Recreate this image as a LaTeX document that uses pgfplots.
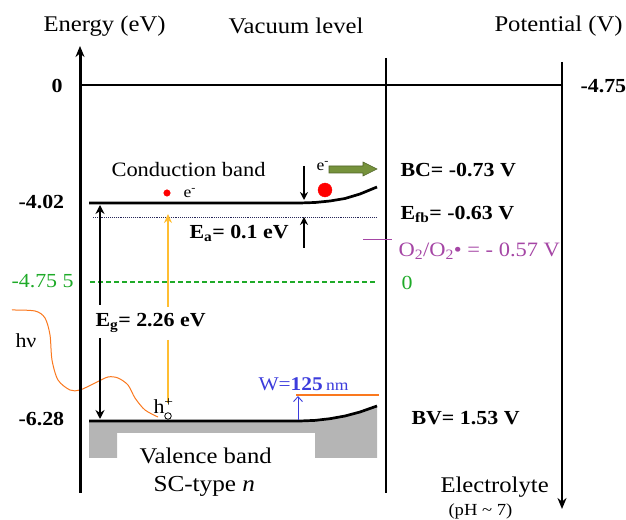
\documentclass[border=0pt]{standalone}
\usepackage{pgfplots}
\pgfplotsset{compat=1.18}
\usepackage{fontspec}
\setmainfont[FakeStretch=1.1]{Liberation Serif}
\usetikzlibrary{arrows.meta}
\definecolor{myorange}{RGB}{250,120,30}
\definecolor{myyellow}{RGB}{255,190,50}
\definecolor{mygreen}{RGB}{30,170,40}
\definecolor{mypurple}{RGB}{165,70,165}
\definecolor{myblue}{RGB}{60,60,220}
\definecolor{olivegreen}{RGB}{118,146,60}
\definecolor{olivedark}{RGB}{80,100,40}
\definecolor{dotblue}{RGB}{40,40,90}
\newcommand{\fs}[1]{\fontsize{#1}{#1}\selectfont}
\begin{document}
\begin{tikzpicture}
\begin{axis}[
  scale only axis, width=626bp, height=520bp,
  xmin=0, xmax=626, ymin=0, ymax=520, y dir=reverse,
  hide axis, clip=false,
  every node/.style={inner sep=0pt, outer sep=0pt},
]
\coordinate (bl) at (rel axis cs:0,0);
\coordinate (tr) at (rel axis cs:1,1);
% gray valence block
\addplot[fill=gray!58, draw=none] coordinates {(89,421) (300,421) (315,420.4) (330,418.7) (345,416) (360,412) (377,406) (377,458) (315,458) (315,433) (117,433) (117,458) (89,458)} -- cycle;
% h nu curve
\addplot[myorange, line width=1bp, smooth] coordinates {(12,310) (35,311) (45,318) (50,335) (52,360) (58,380) (70,390) (80,390) (95,383) (108,377) (118,378) (128,385) (135,398) (145,410) (158,417)};
% axes lines
\addplot[line width=3bp, -{Stealth[length=11bp,width=9bp]}] coordinates {(80,493) (80,46)};
\addplot[line width=1.4bp] coordinates {(80,85) (562,85)};
\addplot[line width=2.6bp] coordinates {(386,58) (386,493)};
\addplot[line width=2.6bp, -{Stealth[length=11bp,width=9bp]}] coordinates {(562,62) (562,509)};
% bands
\addplot[line width=2.7bp] coordinates {(89,203) (300,203) (315,202.5) (330,201) (345,198.5) (360,194) (377,187)};
\addplot[line width=2.7bp] coordinates {(89,421) (300,421) (315,420.4) (330,418.7) (345,416) (360,412) (377,406)};
\addplot[dotblue, densely dotted, line width=0.9bp] coordinates {(93,217) (377,217)};
\addplot[mygreen, dashed, line width=1.6bp, dash pattern=on 5bp off 3bp] coordinates {(90,282) (377,282)};
\addplot[mypurple, line width=1bp] coordinates {(363,240) (392,240)};
% Eg arrows
\addplot[line width=2.5bp, -{Stealth[length=9bp,width=9bp]}] coordinates {(100,305) (100,205)};
\addplot[line width=2.5bp, -{Stealth[length=9bp,width=9bp]}] coordinates {(100,338) (100,419)};
% yellow arrow
\addplot[myyellow, line width=1.6bp, -{Stealth[length=9bp,width=8bp]}] coordinates {(168,307) (168,214)};
\addplot[myyellow, line width=1.6bp] coordinates {(168,340) (168,403)};
% Ea arrows
\addplot[line width=2.2bp, -{Stealth[length=8bp,width=8bp]}] coordinates {(304,166) (304,200)};
\addplot[line width=2.2bp, -{Stealth[length=8bp,width=8bp]}] coordinates {(304,248) (304,217)};
% green fat arrow
\addplot[fill=olivegreen, draw=olivedark, line width=0.6bp] coordinates {(329,166) (363,166) (363,162) (377,169) (363,176) (363,173) (329,173)} -- cycle;
% W arrow and line
\addplot[myblue, line width=0.9bp, -{Straight Barb[length=5bp,width=9bp]}] coordinates {(298,420) (298,396)};
\addplot[myorange, line width=1.2bp] coordinates {(296,395) (379,395)};
% dots
\addplot[only marks, mark=*, mark size=7, red] coordinates {(325,190)};
\addplot[only marks, mark=*, mark size=3.3, red] coordinates {(167,193)};
\addplot[only marks, mark=*, mark size=3.3, mark options={fill=white, draw=black, line width=0.8bp}] coordinates {(168,416)};
% texts
\node[anchor=west, font=\fs{22.5}] at (axis cs:40,26) {Energy (eV)};
\node[anchor=west, font=\fs{22.5}] at (axis cs:225,26) {Vacuum level};
\node[anchor=west, font=\fs{22.5}] at (axis cs:491,26) {Potential (V)};
\node[anchor=west, font=\fs{20}\bfseries] at (axis cs:48,86) {0};
\node[anchor=west, font=\fs{20}\bfseries] at (axis cs:577,86) {-4.75};
\node[anchor=west, font=\fs{20}\bfseries] at (axis cs:15,202) {-4.02};
\node[anchor=west, font=\fs{20}\bfseries] at (axis cs:15,419) {-6.28};
\node[anchor=west, font=\fs{20}, text=mygreen] at (axis cs:8,281) {-4.75 5};
\node[anchor=west, font=\fs{20}, text=mygreen] at (axis cs:398,283) {0};
\node[anchor=west, font=\fs{20.5}] at (axis cs:108,170) {Conduction band};
\node[anchor=west, font=\fs{16}] at (axis cs:180,193) {e\textsuperscript{-}};
\node[anchor=west, font=\fs{16}] at (axis cs:313,166) {e\textsuperscript{-}};
\node[anchor=west, font=\fs{20}\bfseries] at (axis cs:186,233) {E\textsubscript{a}= 0.1 eV};
\node[anchor=west, font=\fs{20}\bfseries] at (axis cs:92,323) {E\textsubscript{g}= 2.26 eV};
\node[anchor=west, font=\fs{20}\bfseries] at (axis cs:397,170) {BC= -0.73 V};
\node[anchor=west, font=\fs{20}\bfseries] at (axis cs:397,214) {E\textsubscript{fb}= -0.63 V};
\node[anchor=west, font=\fs{20.5}, text=mypurple] at (axis cs:395,251) {O\textsubscript{2}/O\textsubscript{2}• = - 0.57 V};
\node[anchor=west, font=\fs{20}\bfseries] at (axis cs:408,418) {BV= 1.53 V};
\node[anchor=west, font=\fs{20}] at (axis cs:12,341) {hν};
\node[anchor=west, font=\fs{20}] at (axis cs:150,406) {h\textsuperscript{+}};
\node[anchor=west, font=\fs{19.5}, text=myblue] at (axis cs:255,384) {W=\textbf{125}\,{\fs{16}nm}};
\node[anchor=west, font=\fs{22.5}] at (axis cs:136,456) {Valence band};
\node[anchor=west, font=\fs{23}] at (axis cs:150,486) {SC-type \textit{n}};
\node[anchor=west, font=\fs{22.5}] at (axis cs:437,487) {Electrolyte};
\node[anchor=west, font=\fs{17}] at (axis cs:445,511) {(pH \textasciitilde{} 7)};
\end{axis}
\pgfresetboundingbox
\path (bl) rectangle (tr);
\end{tikzpicture}
\end{document}
